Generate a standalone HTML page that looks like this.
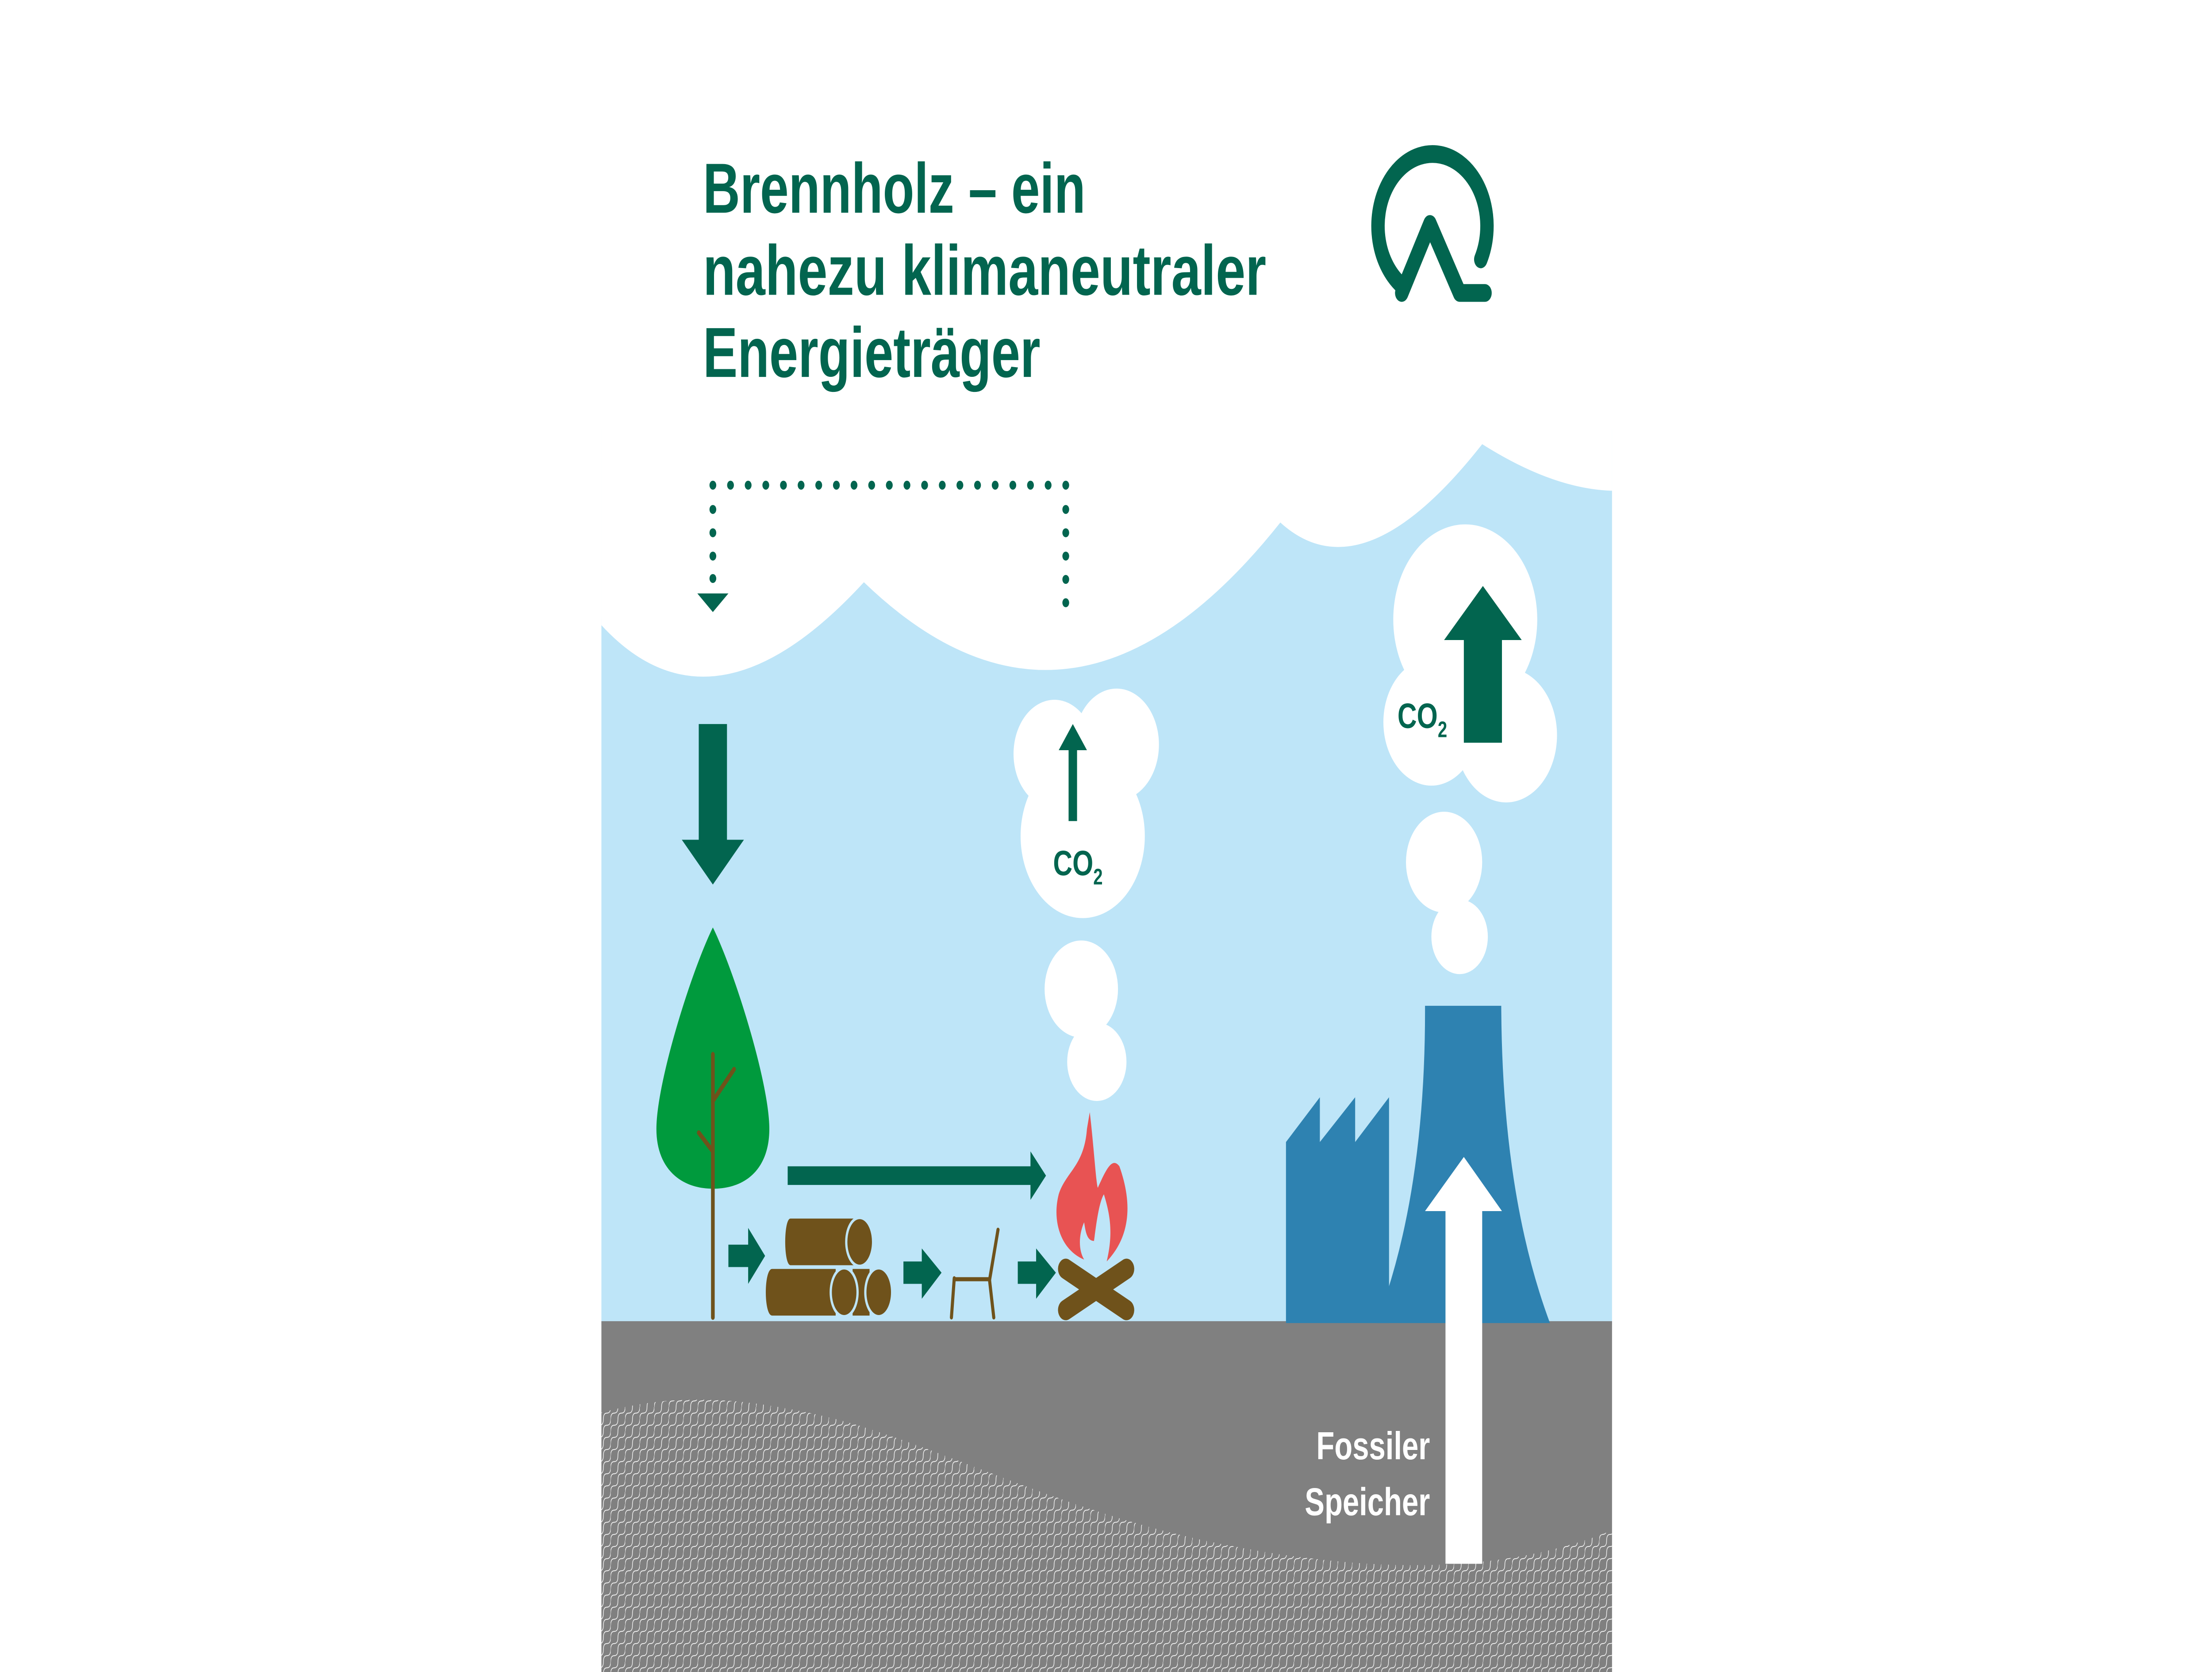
<!DOCTYPE html>
<html><head><meta charset="utf-8"><style>
html,body{margin:0;padding:0;background:#fff;width:100%;height:100%;overflow:hidden;}
svg{display:block;width:100vw;height:100vh;}
</style></head><body>
<svg viewBox="0 0 1567 896" preserveAspectRatio="none" xmlns="http://www.w3.org/2000/svg">
<defs>
<pattern id="wv" patternUnits="userSpaceOnUse" width="10.3" height="6.5">
<path d="M0,6.5 C0,4 1,3.25 2.57,3.25 C4.1,3.25 5.15,2.5 5.15,0 M5.15,6.5 C5.15,4 6.15,3.25 7.72,3.25 C9.25,3.25 10.3,2.5 10.3,0" fill="none" stroke="#fff" stroke-width="0.4"/>
</pattern>
<clipPath id="panel"><rect x="426" y="0" width="716" height="896"/></clipPath>
</defs>
<rect width="1567" height="896" fill="#fff"/>
<g clip-path="url(#panel)">
<rect x="426" y="230" width="716" height="480" fill="#bee5f8"/>
<path d="M420,0 L426,335 Q505,400 612,312 Q760,420 907,280 Q965,320 1050,238 Q1100,262 1142,263 L1150,263 L1150,0 Z" fill="#fff"/>
<rect x="426" y="708" width="716" height="190" fill="#808080"/>
<path d="M426,757 C470,748 520,746 600,762 C680,780 750,808 850,825 C930,838 1000,842 1060,836 C1100,832 1130,824 1142,820 L1142,896 L426,896 Z" fill="url(#wv)"/>
</g>
<g font-family="Liberation Sans, sans-serif" font-weight="bold" fill="#02654f" font-size="38">
<text x="498" y="114" textLength="271" lengthAdjust="spacingAndGlyphs">Brennholz – ein</text>
<text x="498" y="158" textLength="399" lengthAdjust="spacingAndGlyphs">nahezu klimaneutraler</text>
<text x="498" y="202" textLength="239" lengthAdjust="spacingAndGlyphs">Energieträger</text>
</g>
<g fill="none" stroke="#02654f" stroke-width="9.5" stroke-linecap="round" stroke-linejoin="round">
<path d="M993,153 A38.6,38.6 0 1 1 1049,139"/>
<path d="M993,157 L1013,120 L1034,157 L1052,157"/>
</g>
<g fill="#02654f">
<circle cx="505" cy="260" r="2.4"/><circle cx="517.5" cy="260" r="2.4"/><circle cx="530" cy="260" r="2.4"/><circle cx="542.5" cy="260" r="2.4"/><circle cx="555" cy="260" r="2.4"/><circle cx="567.5" cy="260" r="2.4"/><circle cx="580" cy="260" r="2.4"/><circle cx="592.5" cy="260" r="2.4"/><circle cx="605" cy="260" r="2.4"/><circle cx="617.5" cy="260" r="2.4"/><circle cx="630" cy="260" r="2.4"/><circle cx="642.5" cy="260" r="2.4"/><circle cx="655" cy="260" r="2.4"/><circle cx="667.5" cy="260" r="2.4"/><circle cx="680" cy="260" r="2.4"/><circle cx="692.5" cy="260" r="2.4"/><circle cx="705" cy="260" r="2.4"/><circle cx="717.5" cy="260" r="2.4"/><circle cx="730" cy="260" r="2.4"/><circle cx="742.5" cy="260" r="2.4"/><circle cx="755" cy="260" r="2.4"/>
<circle cx="505" cy="273" r="2.4"/><circle cx="505" cy="285.5" r="2.4"/><circle cx="505" cy="298" r="2.4"/><circle cx="505" cy="310" r="2.4"/>
<path d="M494,318 L516,318 L505,328 Z"/>
<circle cx="755" cy="273" r="2.4"/><circle cx="755" cy="285.5" r="2.4"/><circle cx="755" cy="298" r="2.4"/><circle cx="755" cy="310.5" r="2.4"/><circle cx="755" cy="323" r="2.4"/>
<path d="M495,388 L515,388 L515,450 L527,450 L505,474 L483,450 L495,450 Z"/>
<path d="M558,625 L730,625 L730,617 L741,630 L730,643 L730,635 L558,635 Z"/>
<path d="M516,667 L530,667 L530,658 L542,673 L530,688 L530,679 L516,679 Z"/>
<path d="M640,676 L653,676 L653,669 L667,682 L653,696 L653,688 L640,688 Z"/>
<path d="M721,676 L734,676 L734,669 L748,682 L734,696 L734,688 L721,688 Z"/>
</g>
<path d="M505,497 C490,520 465,580 465,605 C465,626 482,637 505,637 C530,637 545,625 545,605 C545,580 520,520 505,497 Z" fill="#009a3d"/>
<g stroke="#6f521b" stroke-width="2.6" fill="none" stroke-linecap="round">
<line x1="505" y1="565" x2="505" y2="706"/>
<line x1="505" y1="590" x2="520" y2="573"/>
<line x1="505" y1="617" x2="495" y2="607"/>
</g>
<g fill="#6f521b" stroke="#bee5f8" stroke-width="1.6">
<path d="M560,653 L605,653 L605,678 L560,678 C555,678 555,653 560,653 Z" stroke="none"/>
<ellipse cx="609" cy="665.5" rx="9.5" ry="13"/>
<path d="M547,680 L592,680 L592,705 L547,705 C541,705 541,680 547,680 Z" stroke="none"/>
<path d="M604,680 L616,680 L616,705 L604,705 Z" stroke="none"/>
<ellipse cx="598" cy="692.5" rx="9.5" ry="13"/>
<ellipse cx="622.5" cy="692.5" rx="9.5" ry="13"/>
</g>
<g stroke="#6f521b" stroke-width="2.2" fill="none" stroke-linecap="round">
<line x1="707" y1="659" x2="701" y2="686"/>
<line x1="701" y1="686" x2="704" y2="706"/>
<line x1="676" y1="685.5" x2="701" y2="685.5"/>
<line x1="676" y1="685" x2="674" y2="706"/>
</g>
<g stroke="#6f521b" stroke-width="11" stroke-linecap="round">
<line x1="755" y1="680" x2="798" y2="702"/>
<line x1="798" y1="680" x2="755" y2="702"/>
</g>
<path d="M772,596 C775,615 777,640 778,636 C784,626 788,620 793,625 C800,640 804,660 784,676 C789,660 786,650 782,640 C778,645 776,660 775,665 C770,665 769,660 768,655 C764,662 764,670 768,675 C752,670 745,655 750,640 C755,628 768,625 770,605 Z" fill="#e85353"/>
<g fill="#fff">
<circle cx="747" cy="404" r="29"/><circle cx="791" cy="399" r="30"/><circle cx="767" cy="448" r="44"/>
<circle cx="766" cy="530" r="26"/><circle cx="777" cy="569" r="21"/>
<circle cx="1038" cy="332" r="51"/><circle cx="1014" cy="387" r="34"/><circle cx="1067" cy="394" r="36"/>
<circle cx="1023" cy="462" r="27"/><circle cx="1034" cy="502" r="20"/>
</g>
<path d="M757,440 L757,402 L750,402 L760,388 L770,402 L763,402 L763,440 Z" fill="#02654f"/>
<path d="M1037,398 L1037,343 L1023,343 L1050.5,314 L1078,343 L1064,343 L1064,398 Z" fill="#02654f"/>
<g font-family="Liberation Sans, sans-serif" font-weight="bold" fill="#02654f">
<text x="746" y="469" font-size="19">CO<tspan font-size="12" dy="5">2</tspan></text>
<text x="990" y="390" font-size="19">CO<tspan font-size="12" dy="5">2</tspan></text>
</g>
<path d="M911,612 L935,588 L935,612 L960,588 L960,612 L984,588 L984,709 L911,709 Z" fill="#2e82b1"/>
<path d="M1009.5,539 L1063.5,539 Q1064,640 1098,709 L975,709 Q1010,640 1009.5,539 Z" fill="#2e82b1"/>
<path d="M1024,838 L1024,649 L1009.5,649 L1037,620 L1064,649 L1050,649 L1050,838 Z" fill="#fff"/>
<g font-family="Liberation Sans, sans-serif" font-weight="bold" fill="#fff" font-size="21" text-anchor="end">
<text x="1013" y="782">Fossiler</text>
<text x="1013" y="812">Speicher</text>
</g>
</svg>
</body></html>
